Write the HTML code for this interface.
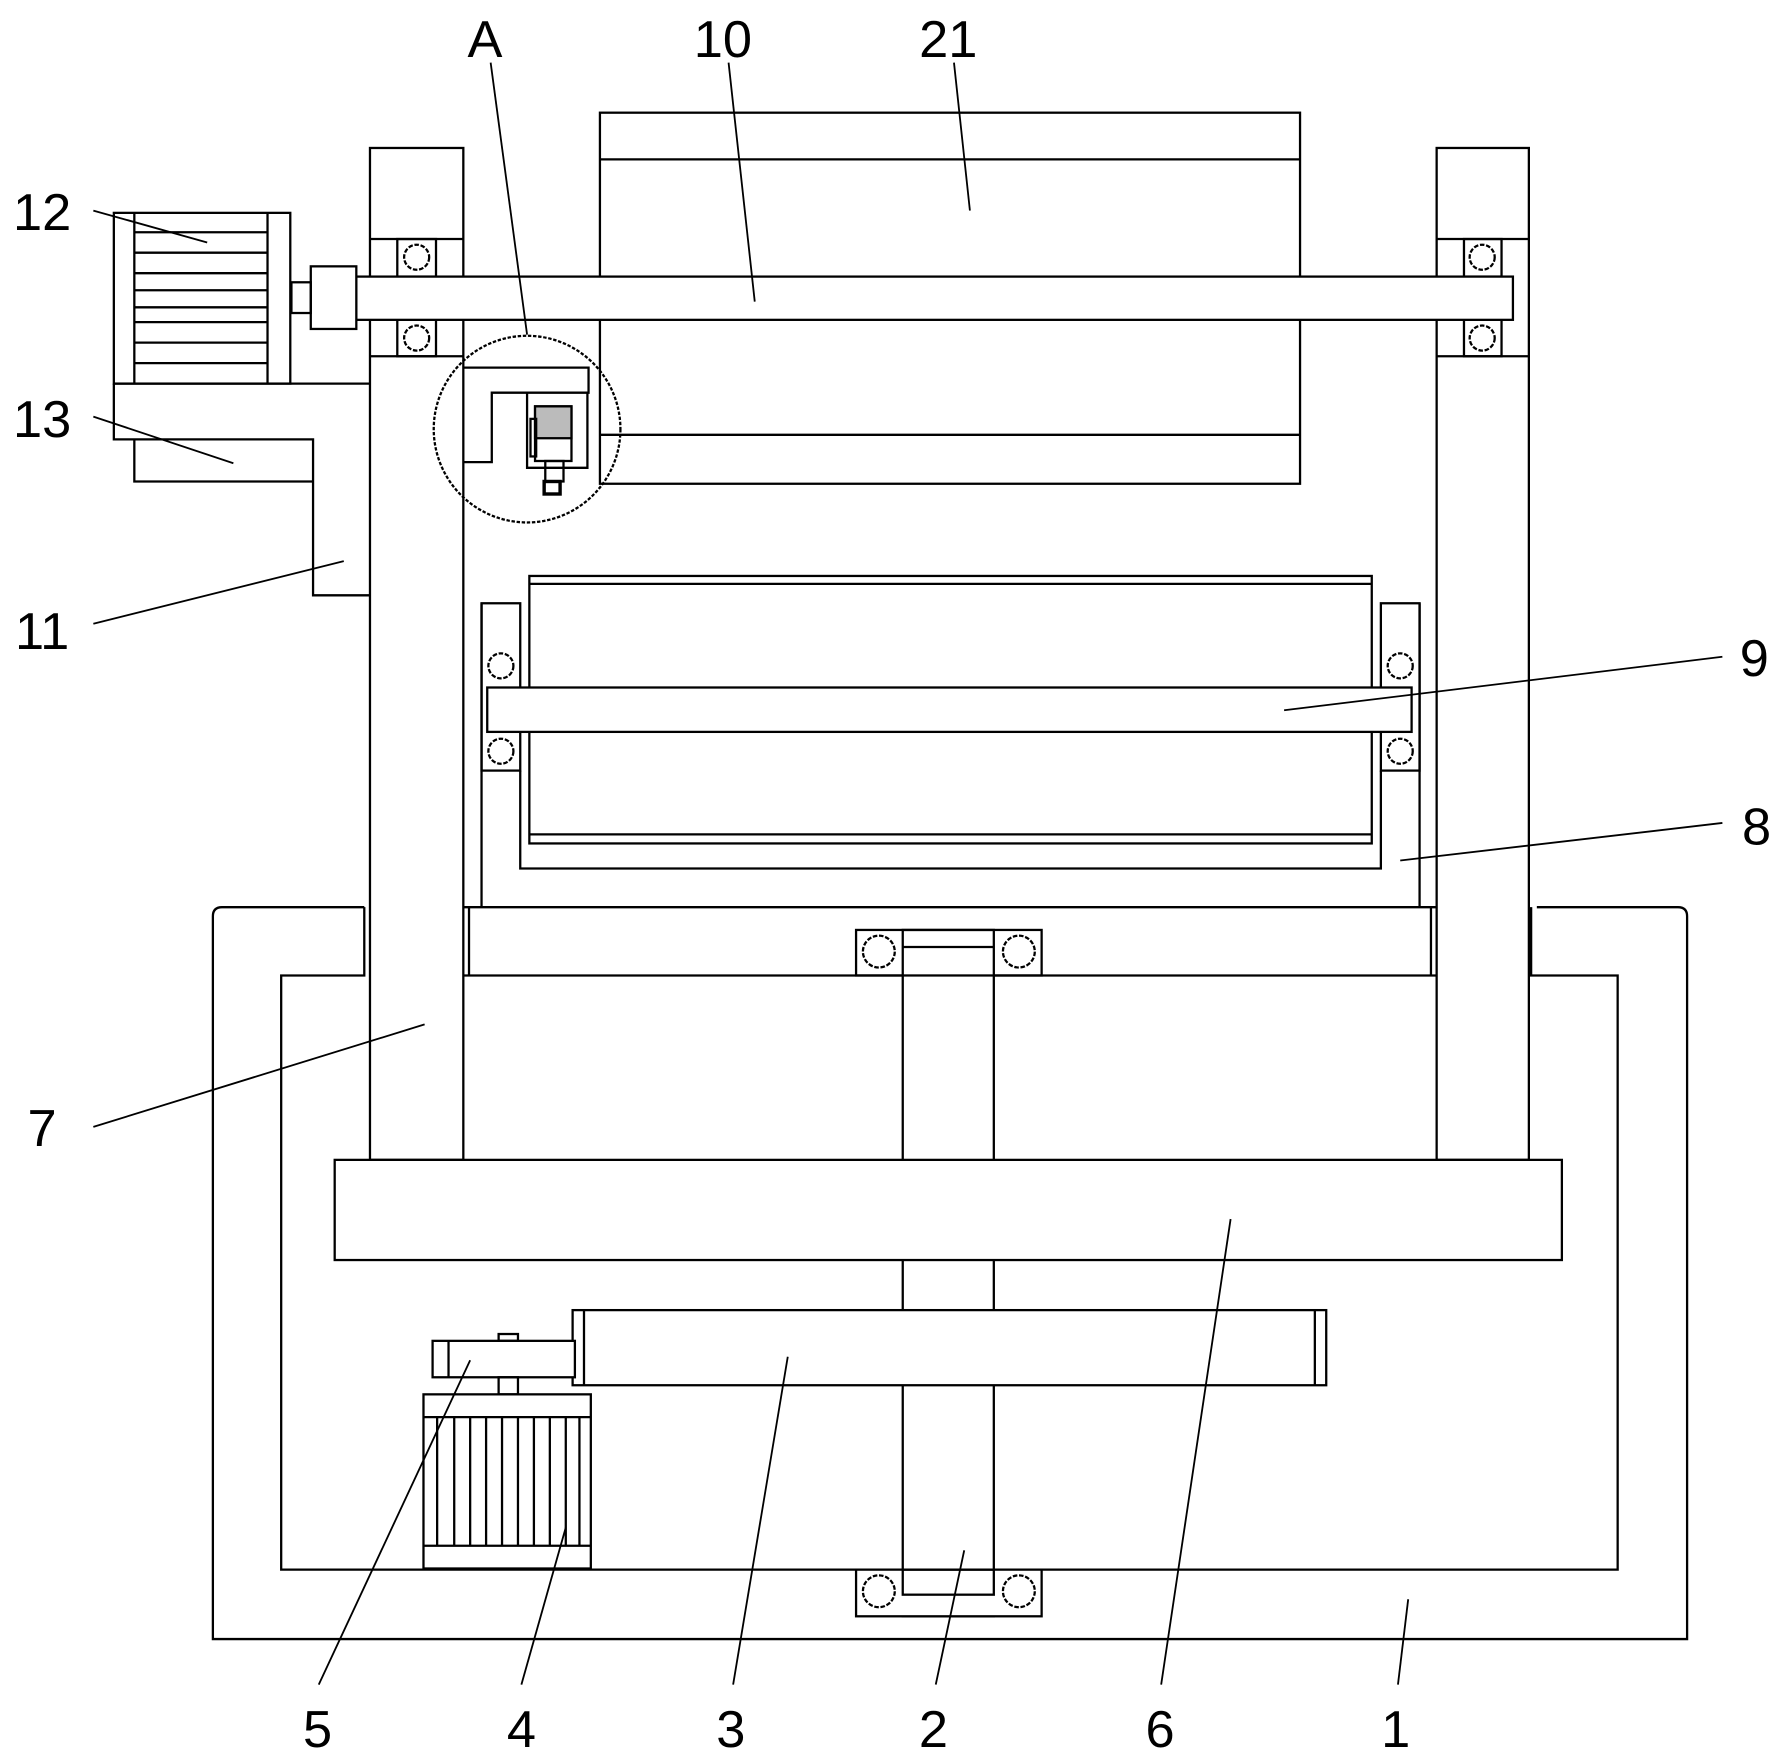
<!DOCTYPE html>
<html><head><meta charset="utf-8"><style>
html,body{margin:0;padding:0;background:#fff}
svg{display:block}
text{font-family:"Liberation Sans","DejaVu Sans",sans-serif;font-size:46px;fill:#000}
</style></head><body>
<svg width="1785" height="1762" viewBox="0 0 1568 1548" preserveAspectRatio="none" xmlns="http://www.w3.org/2000/svg">
<g fill="none" stroke="#000" stroke-width="2">
<!-- base 1 -->
<path d="M320,797 H195 Q187,797 187,805 V1440 H1482 V805 Q1482,797 1474,797 H1350"/>
<path d="M320,797 V857 H247 V1379 H1421 V857 H1345 V797"/>
<!-- columns -->
<rect x="325" y="130" width="82" height="889"/>
<rect x="1262" y="130" width="81" height="889"/>
<line x1="325" y1="210" x2="407" y2="210"/><line x1="325" y1="313" x2="407" y2="313"/>
<line x1="1262" y1="210" x2="1343" y2="210"/><line x1="1262" y1="313" x2="1343" y2="313"/>
<rect x="349" y="210" width="34" height="33"/><rect x="349" y="281" width="34" height="32"/>
<rect x="1286" y="210" width="33" height="33"/><rect x="1286" y="281" width="33" height="32"/>
<circle cx="366" cy="226" r="11" stroke-dasharray="4 1.5"/><circle cx="366" cy="297" r="11" stroke-dasharray="4 1.5"/>
<circle cx="1302" cy="226" r="11" stroke-dasharray="4 1.5"/><circle cx="1302" cy="297" r="11" stroke-dasharray="4 1.5"/>
<!-- box 21 -->
<rect x="527" y="99" width="615" height="326"/>
<line x1="527" y1="140" x2="1142" y2="140"/><line x1="527" y1="382" x2="1142" y2="382"/>
<!-- shaft 10 -->
<rect x="313" y="243" width="1016" height="38" fill="#fff"/>
<rect x="273" y="234" width="40" height="55" fill="#fff"/>
<rect x="256" y="248" width="17" height="27"/>
<!-- motor 12 -->
<rect x="100" y="187" width="155" height="150"/>
<line x1="118" y1="187" x2="118" y2="337"/><line x1="235" y1="187" x2="235" y2="337"/>
<g>
<line x1="118" y1="204" x2="235" y2="204"/><line x1="118" y1="222" x2="235" y2="222"/>
<line x1="118" y1="240" x2="235" y2="240"/><line x1="118" y1="255" x2="235" y2="255"/>
<line x1="118" y1="270" x2="235" y2="270"/><line x1="118" y1="283" x2="235" y2="283"/>
<line x1="118" y1="301" x2="235" y2="301"/><line x1="118" y1="319" x2="235" y2="319"/>
</g>
<!-- bracket 13/11 -->
<path d="M100,337 H325 M100,337 V386 H118 V423 H275 V523 H325 M118,386 H275 V423"/>
<!-- frame between columns -->
<line x1="407" y1="797" x2="1262" y2="797"/><line x1="407" y1="857" x2="793" y2="857"/><line x1="873" y1="857" x2="1262" y2="857"/>
<line x1="412" y1="797" x2="412" y2="857"/><line x1="1257" y1="797" x2="1257" y2="857"/>
<!-- part 8 -->
<line x1="423" y1="530" x2="423" y2="797"/><line x1="1247" y1="530" x2="1247" y2="797"/>
<path d="M457,677 V763 H1213 V677"/>
<rect x="423" y="530" width="34" height="147"/><rect x="1213" y="530" width="34" height="147"/>
<circle cx="440" cy="585" r="11" stroke-dasharray="4 1.5"/><circle cx="440" cy="660" r="11" stroke-dasharray="4 1.5"/>
<circle cx="1230" cy="585" r="11" stroke-dasharray="4 1.5"/><circle cx="1230" cy="660" r="11" stroke-dasharray="4 1.5"/>
<rect x="465" y="506" width="740" height="235" fill="#fff"/>
<line x1="465" y1="513" x2="1205" y2="513"/><line x1="465" y1="733" x2="1205" y2="733"/>
<!-- shaft 9 -->
<rect x="428" y="604" width="812" height="39" fill="#fff"/>
<!-- shaft 2 -->
<rect x="793" y="817" width="80" height="603"/>
<rect x="752" y="817" width="163" height="40" fill="none"/>
<line x1="793" y1="832" x2="873" y2="832"/>
<rect x="752" y="1379" width="163" height="41" fill="#fff"/>
<rect x="793" y="1379" width="80" height="22"/>
<circle cx="772" cy="836" r="14" stroke-dasharray="4 1.5"/><circle cx="895" cy="836" r="14" stroke-dasharray="4 1.5"/>
<circle cx="772" cy="1398" r="14" stroke-dasharray="4 1.5"/><circle cx="895" cy="1398" r="14" stroke-dasharray="4 1.5"/>
<!-- beam 6 -->
<rect x="294" y="1019" width="1078" height="88" fill="#fff"/>
<!-- gear 3 -->
<rect x="503" y="1151" width="662" height="66" fill="#fff"/>
<line x1="513" y1="1151" x2="513" y2="1217"/><line x1="1155" y1="1151" x2="1155" y2="1217"/>
<!-- 5 -->
<rect x="380" y="1178" width="125" height="32" fill="#fff"/>
<line x1="394" y1="1178" x2="394" y2="1210"/>
<rect x="438" y="1172" width="17" height="6"/>
<rect x="438" y="1210" width="17" height="15"/>
<!-- motor 4 -->
<rect x="372" y="1225" width="147" height="153" fill="#fff"/>
<line x1="372" y1="1245" x2="519" y2="1245"/><line x1="372" y1="1358" x2="519" y2="1358"/>
<g>
<line x1="384" y1="1245" x2="384" y2="1358"/><line x1="399" y1="1245" x2="399" y2="1358"/>
<line x1="413" y1="1245" x2="413" y2="1358"/><line x1="427" y1="1245" x2="427" y2="1358"/>
<line x1="441" y1="1245" x2="441" y2="1358"/><line x1="455" y1="1245" x2="455" y2="1358"/>
<line x1="469" y1="1245" x2="469" y2="1358"/><line x1="483" y1="1245" x2="483" y2="1358"/>
<line x1="497" y1="1245" x2="497" y2="1358"/><line x1="509" y1="1245" x2="509" y2="1358"/>
</g>
<!-- circle A detail -->
<circle cx="463" cy="377" r="82" stroke-dasharray="3 1.5"/>
<path d="M407,323 H517 V345 H432 V406 H407"/>
<path d="M463,345 V411 H516 V345"/>
<rect x="470" y="357" width="32" height="48"/>
<rect x="470" y="357" width="32" height="28" fill="#bbb"/>
<rect x="466" y="368" width="5" height="33"/>
<rect x="479" y="405" width="16" height="18"/>
<rect x="478" y="423" width="14" height="11" stroke-width="3"/>
</g>
<!-- leader lines -->
<g stroke="#000" stroke-width="1.6" fill="none">
<line x1="431" y1="55" x2="463" y2="294"/>
<line x1="640" y1="55" x2="663" y2="265"/>
<line x1="838" y1="55" x2="852" y2="185"/>
<line x1="82" y1="185" x2="182" y2="213"/>
<line x1="82" y1="366" x2="205" y2="407"/>
<line x1="82" y1="548" x2="302" y2="493"/>
<line x1="1513" y1="577" x2="1128" y2="624"/>
<line x1="1513" y1="723" x2="1230" y2="756"/>
<line x1="82" y1="990" x2="373" y2="900"/>
<line x1="280" y1="1480" x2="413" y2="1195"/>
<line x1="458" y1="1480" x2="497" y2="1342"/>
<line x1="644" y1="1480" x2="692" y2="1192"/>
<line x1="822" y1="1480" x2="847" y2="1362"/>
<line x1="1020" y1="1480" x2="1081" y2="1071"/>
<line x1="1228" y1="1480" x2="1237" y2="1405"/>
</g>
<!-- labels -->
<text x="426" y="50" text-anchor="middle">A</text>
<text x="635" y="50" text-anchor="middle">10</text>
<text x="833" y="50" text-anchor="middle">21</text>
<text x="37" y="202" text-anchor="middle">12</text>
<text x="37" y="384" text-anchor="middle">13</text>
<text x="37" y="570" text-anchor="middle">11</text>
<text x="1541" y="594" text-anchor="middle">9</text>
<text x="1543" y="742" text-anchor="middle">8</text>
<text x="37" y="1007" text-anchor="middle">7</text>
<text x="279" y="1535" text-anchor="middle">5</text>
<text x="458" y="1535" text-anchor="middle">4</text>
<text x="642" y="1535" text-anchor="middle">3</text>
<text x="820" y="1535" text-anchor="middle">2</text>
<text x="1019" y="1535" text-anchor="middle">6</text>
<text x="1226" y="1535" text-anchor="middle">1</text>
</svg>
</body></html>
